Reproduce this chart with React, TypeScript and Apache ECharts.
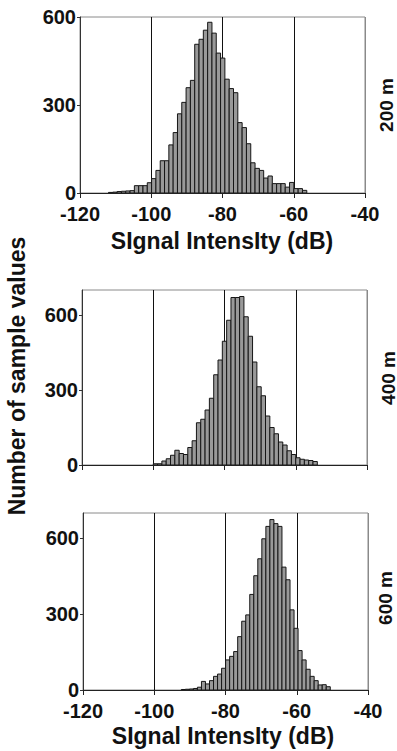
import React, { useEffect, useRef } from "react";
import * as echarts from "echarts";

// Histogram counts (number of sample values per bin)
const counts200 = [
  2, 3, 5, 6, 7, 8, 25, 25, 25, 35,
  49, 77, 110, 110, 164, 206, 270, 309, 359, 384,
  507, 524, 555, 582, 545, 477, 460, 388, 356, 342,
  240, 223, 168, 103, 84, 77, 51, 58, 32, 32,
  32, 20, 36, 15, 15, 9,
];
const counts400 = [
  5, 5, 16, 25, 39, 59, 46, 42, 70, 97,
  169, 183, 220, 267, 361, 420, 495, 579, 670, 670,
  674, 593, 515, 412, 313, 277, 196, 150, 125, 92,
  80, 57, 42, 29, 23, 20, 18, 14,
];
const counts600 = [
  2, 3, 4, 6, 11, 34, 24, 37, 54, 63,
  86, 119, 133, 152, 211, 272, 297, 378, 452, 519,
  598, 647, 674, 658, 647, 486, 436, 317, 244, 156,
  119, 82, 54, 37, 20, 21, 13,
];

// Bin layout (dB) for each panel
const binStart = [-112, -100, -92.4];
const binWidth = [1.21, 1.212, 1.13];

const panelLabels = ["200 m", "400 m", "600 m"];
const xTicks = [-120, -100, -80, -60, -40];
const yTicks = [0, 300, 600];
const yMax = [600, 700, 700];
const xTitle = "SIgnal IntensIty (dB)";
const yTitle = "Number of sample values";

const FONT = "'Liberation Sans', Arial, sans-serif";

const grids = [
  { left: 80, top: 17, width: 285, height: 176 },
  { left: 82, top: 290, width: 285, height: 175 },
  { left: 83, top: 513, width: 285, height: 177 },
];

function toBins(counts: number[], start: number, width: number) {
  return counts.map((c, i) => [start + i * width, start + (i + 1) * width, c]);
}

export default function App() {
  const ref = useRef<HTMLDivElement>(null);

  useEffect(() => {
    if (!ref.current) return;
    const chart = echarts.init(ref.current, undefined, { renderer: "svg" });
    const allCounts = [counts200, counts400, counts600];

    const renderItem = (params: any, api: any) => {
      const x0 = api.value(0);
      const x1 = api.value(1);
      const y = api.value(2);
      const p0 = api.coord([x0, 0]);
      const p1 = api.coord([x1, y]);
      return {
        type: "rect",
        shape: {
          x: p0[0],
          y: p1[1],
          width: p1[0] - p0[0],
          height: p0[1] - p1[1],
        },
        style: { fill: "#999999", stroke: "#161616", lineWidth: 1 },
      };
    };

    const option: any = {
      animation: false,
      backgroundColor: "#ffffff",
      grid: grids.map((g) => ({
        ...g,
        show: true,
        borderColor: "#8a8a8a",
        borderWidth: 1,
        backgroundColor: "transparent",
      })),
      xAxis: grids.map((_, i) => ({
        type: "value",
        gridIndex: i,
        min: -120,
        max: -40,
        interval: 20,
        axisLine: { show: true, onZero: false, lineStyle: { color: "#222", width: 1 } },
        axisTick: { show: true, length: 5, lineStyle: { color: "#222" } },
        axisLabel: {
          show: i !== 1,
          fontSize: 20,
          fontWeight: "bold",
          fontFamily: FONT,
          color: "#111",
          margin: 11,
          customValues: xTicks,
        },
        splitLine: {
          show: true,
          lineStyle: { color: ["#8a8a8a", "#111", "#111", "#111", "#8a8a8a"], width: 1 },
        },
      })),
      yAxis: grids.map((_, i) => ({
        type: "value",
        gridIndex: i,
        min: 0,
        max: yMax[i],
        interval: 300,
        axisLine: { show: true, lineStyle: { color: "#333", width: 1 } },
        axisTick: { show: true, length: 3, lineStyle: { color: "#333" }, customValues: yTicks },
        axisLabel: {
          fontSize: 20,
          fontWeight: "bold",
          fontFamily: FONT,
          color: "#111",
          margin: 4,
          lineHeight: 18,
          customValues: yTicks,
          formatter: (v: number) => (yTicks.indexOf(v) >= 0 ? String(v) : ""),
        },
        splitLine: { show: false },
      })),
      series: allCounts.map((counts, i) => ({
        type: "custom",
        xAxisIndex: i,
        yAxisIndex: i,
        renderItem,
        encode: { x: [0, 1], y: 2 },
        data: toBins(counts, binStart[i], binWidth[i]),
        clip: true,
      })),
      graphic: [
        {
          type: "text",
          x: 222,
          y: 241,
          style: {
            text: xTitle,
            font: `bold 23px ${FONT}`,
            fill: "#111",
            textAlign: "center",
            textVerticalAlign: "middle",
          },
        },
        {
          type: "text",
          x: 223,
          y: 736,
          style: {
            text: xTitle,
            font: `bold 23px ${FONT}`,
            fill: "#111",
            textAlign: "center",
            textVerticalAlign: "middle",
          },
        },
        {
          type: "text",
          x: 17,
          y: 376,
          rotation: Math.PI / 2,
          style: {
            text: yTitle,
            font: `bold 23px ${FONT}`,
            fill: "#111",
            textAlign: "center",
            textVerticalAlign: "middle",
          },
        },
        ...panelLabels.map((t, i) => ({
          type: "text",
          x: [386, 388, 385][i],
          y: [105, 378, 598][i],
          rotation: Math.PI / 2,
          style: {
            text: t,
            font: `bold 19px ${FONT}`,
            fill: "#111",
            textAlign: "center",
            textVerticalAlign: "middle",
          },
        })),
      ],
    };

    chart.setOption(option);
    return () => chart.dispose();
  }, []);

  return (
    <div
      ref={ref}
      style={{ position: "fixed", left: 0, top: 0, width: 397, height: 751, background: "#fff" }}
    />
  );
}
